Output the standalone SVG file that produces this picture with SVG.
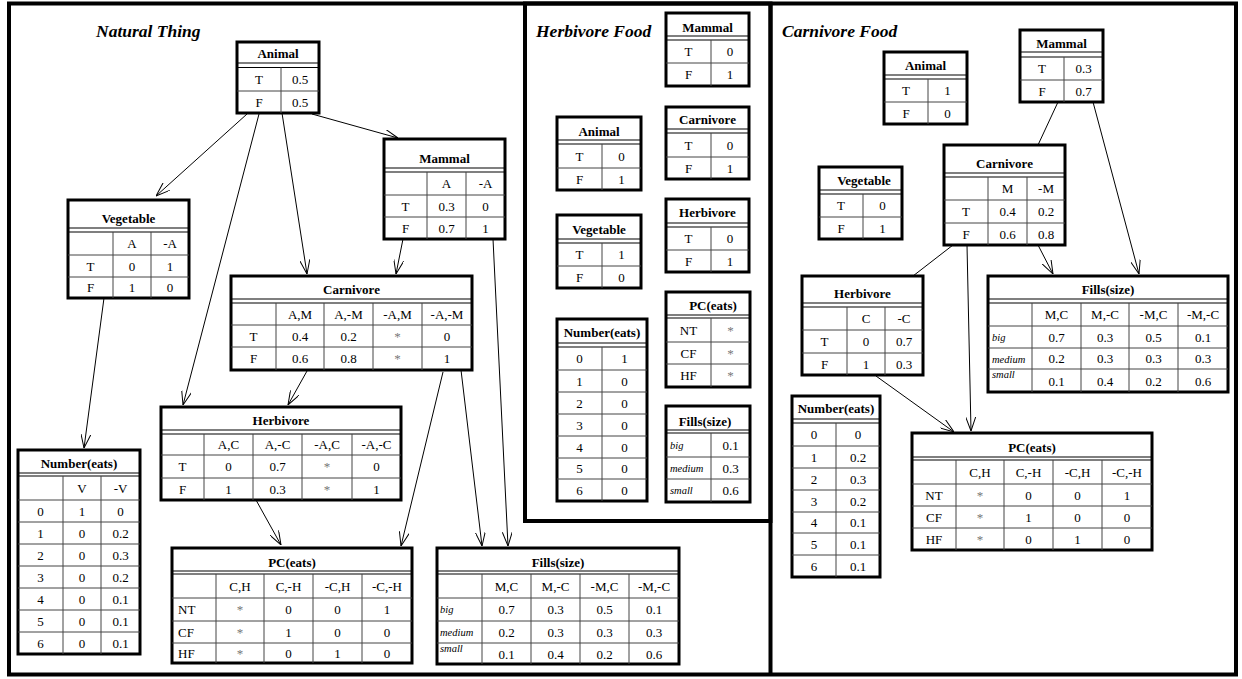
<svg xmlns="http://www.w3.org/2000/svg" width="1242" height="679" viewBox="0 0 1242 679" font-family="'Liberation Serif', 'Times New Roman', serif">
<style>
text{font-family:"Liberation Serif","Times New Roman",serif}
.frame{fill:none;stroke:#000;stroke-width:4}
.box{fill:#fff;stroke:#000;stroke-width:3}
.g{stroke:#444;stroke-width:1;fill:none}
.dl{stroke:#000;stroke-width:1.2;fill:none}
.n text{font-size:13px;text-anchor:middle;fill:#000}
.n text.h{font-weight:bold}
.n text.i{font-style:italic;font-size:10.5px;text-anchor:start}
.n text.l{text-anchor:start}
.n text.s{fill:#777}
.ptitle{font-size:17.5px;font-weight:bold;font-style:italic;fill:#000}
.c{stroke:#000;stroke-width:1;fill:none}
.a{marker-end:url(#arr)}
</style>
<defs>
<marker id="arr" viewBox="0 0 14 10" refX="14" refY="5" markerWidth="14" markerHeight="10" markerUnits="userSpaceOnUse" orient="auto">
<path d="M0,0 L14,5 L0,10" fill="none" stroke="#000" stroke-width="1"/>
</marker>
</defs>
<rect width="1242" height="679" fill="#fff"/>
<g id="panels">
<rect class="frame" x="9" y="3.5" width="1227" height="671"/>
<rect class="frame" x="525" y="3.5" width="245.5" height="517.5"/>
<path class="frame" d="M770.5,3.5V674.5"/>
<text class="ptitle" x="96" y="37">Natural Thing</text>
<text class="ptitle" x="536" y="37">Herbivore Food</text>
<text class="ptitle" x="782" y="37">Carnivore Food</text>
</g>
<g id="connectors">
<path class="c a" d="M247,114 L156,196"/>
<path class="c a" d="M259,114 L183,405"/>
<path class="c a" d="M282,113 L307,274"/>
<path class="c a" d="M312,114 L398,138"/>
<path class="c a" d="M403,239 L396,274"/>
<path class="c a" d="M493,239 L508,546"/>
<path class="c a" d="M104,298 L84,448"/>
<path class="c a" d="M307,371 L288,405"/>
<path class="c a" d="M443,372 L401,546"/>
<path class="c a" d="M461,370 L482,546"/>
<path class="c a" d="M256,500 L281,545"/>
<path class="c" d="M1058,102 L1038,145"/>
<path class="c a" d="M1093,102 L1139,274"/>
<path class="c a" d="M1038,245 L1053,274"/>
<path class="c" d="M953,245 L913,276"/>
<path class="c a" d="M967,245 L971,431"/>
<path class="c a" d="M876,376 L954,432"/>
</g>

<!-- Natural Thing -->
<g id="nt-animal" class="n">
<rect class="box" x="237" y="42" width="82" height="71"/>
<path class="dl" d="M237,63H319M237,67.5H319"/>
<path class="g" d="M237,91H319M281,67.5V113"/>
<text class="h" x="278" y="58">Animal</text>
<text x="259" y="84">T</text><text x="300" y="84">0.5</text>
<text x="259" y="106.5">F</text><text x="300" y="106.5">0.5</text>
</g>
<g id="nt-mammal" class="n">
<rect class="box" x="384" y="139" width="121" height="100"/>
<path class="dl" d="M384,168H505M384,172H505"/>
<path class="g" d="M384,195H505M384,217H505M427,172V239M466,172V239"/>
<text class="h" x="444.5" y="162.5">Mammal</text>
<text x="446.5" y="188">A</text><text x="485.5" y="188">-A</text>
<text x="405.5" y="210.5">T</text><text x="446.5" y="210.5">0.3</text><text x="485.5" y="210.5">0</text>
<text x="405.5" y="232.5">F</text><text x="446.5" y="232.5">0.7</text><text x="485.5" y="232.5">1</text>
</g>
<g id="nt-vegetable" class="n">
<rect class="box" x="68" y="200" width="121" height="98"/>
<path class="dl" d="M68,228H189M68,232H189"/>
<path class="g" d="M68,255H189M68,277H189M113,232V298M151,232V298"/>
<text class="h" x="128.5" y="222.5">Vegetable</text>
<text x="132" y="248">A</text><text x="170" y="248">-A</text>
<text x="90.5" y="270.5">T</text><text x="132" y="270.5">0</text><text x="170" y="270.5">1</text>
<text x="90.5" y="292">F</text><text x="132" y="292">1</text><text x="170" y="292">0</text>
</g>
<g id="nt-carnivore" class="n">
<rect class="box" x="231" y="276" width="241" height="94"/>
<path class="dl" d="M231,299H472M231,303H472"/>
<path class="g" d="M231,325H472M231,347H472M276,303V370M324,303V370M373,303V370M422,303V370"/>
<text class="h" x="351.5" y="293.5">Carnivore</text>
<text x="300" y="318.5">A,M</text><text x="348.5" y="318.5">A,-M</text><text x="397.5" y="318.5">-A,M</text><text x="447" y="318.5">-A,-M</text>
<text x="253.5" y="340.5">T</text><text x="300" y="340.5">0.4</text><text x="348.5" y="340.5">0.2</text><text class="s" x="397.5" y="340.5">*</text><text x="447" y="340.5">0</text>
<text x="253.5" y="363">F</text><text x="300" y="363">0.6</text><text x="348.5" y="363">0.8</text><text class="s" x="397.5" y="363">*</text><text x="447" y="363">1</text>
</g>
<g id="nt-herbivore" class="n">
<rect class="box" x="161" y="407" width="240" height="93"/>
<path class="dl" d="M161,430H401M161,434H401"/>
<path class="g" d="M161,455H401M161,478H401M204,434V500M253,434V500M302,434V500M352,434V500"/>
<text class="h" x="281" y="424.5">Herbivore</text>
<text x="228.5" y="449">A,C</text><text x="277.5" y="449">A,-C</text><text x="327" y="449">-A,C</text><text x="376.5" y="449">-A,-C</text>
<text x="182.5" y="471">T</text><text x="228.5" y="471">0</text><text x="277.5" y="471">0.7</text><text class="s" x="327" y="471">*</text><text x="376.5" y="471">0</text>
<text x="182.5" y="493.5">F</text><text x="228.5" y="493.5">1</text><text x="277.5" y="493.5">0.3</text><text class="s" x="327" y="493.5">*</text><text x="376.5" y="493.5">1</text>
</g>
<g id="nt-number" class="n">
<rect class="box" x="18" y="450" width="122" height="204"/>
<path class="dl" d="M18,473H140M18,476H140"/>
<path class="g" d="M18,500H140M18,522H140M18,544H140M18,566H140M18,588H140M18,610H140M18,632H140M63,476V654M101,476V654"/>
<text class="h" x="79" y="467.5">Number(eats)</text>
<text x="82" y="492.5">V</text><text x="120.5" y="492.5">-V</text>
<text x="40.5" y="515.5">0</text><text x="82" y="515.5">1</text><text x="120.5" y="515.5">0</text>
<text x="40.5" y="537.5">1</text><text x="82" y="537.5">0</text><text x="120.5" y="537.5">0.2</text>
<text x="40.5" y="559.5">2</text><text x="82" y="559.5">0</text><text x="120.5" y="559.5">0.3</text>
<text x="40.5" y="581.5">3</text><text x="82" y="581.5">0</text><text x="120.5" y="581.5">0.2</text>
<text x="40.5" y="603.5">4</text><text x="82" y="603.5">0</text><text x="120.5" y="603.5">0.1</text>
<text x="40.5" y="625.5">5</text><text x="82" y="625.5">0</text><text x="120.5" y="625.5">0.1</text>
<text x="40.5" y="647.5">6</text><text x="82" y="647.5">0</text><text x="120.5" y="647.5">0.1</text>
</g>
<g id="nt-pc" class="n">
<rect class="box" x="172" y="548" width="240" height="115"/>
<path class="dl" d="M172,571H412M172,574H412"/>
<path class="g" d="M172,598H412M172,621H412M172,643H412M216,574V663M264,574V663M313,574V663M362,574V663"/>
<text class="h" x="292" y="566.5">PC(eats)</text>
<text x="240" y="590.5">C,H</text><text x="288.5" y="590.5">C,-H</text><text x="337.5" y="590.5">-C,H</text><text x="387" y="590.5">-C,-H</text>
<text class="l" x="178" y="614">NT</text><text class="s" x="240" y="614">*</text><text x="288.5" y="614">0</text><text x="337.5" y="614">0</text><text x="387" y="614">1</text>
<text class="l" x="178" y="636.5">CF</text><text class="s" x="240" y="636.5">*</text><text x="288.5" y="636.5">1</text><text x="337.5" y="636.5">0</text><text x="387" y="636.5">0</text>
<text class="l" x="178" y="657.5">HF</text><text class="s" x="240" y="657.5">*</text><text x="288.5" y="657.5">0</text><text x="337.5" y="657.5">1</text><text x="387" y="657.5">0</text>
</g>
<g id="nt-fills" class="n">
<rect class="box" x="437" y="548" width="242" height="116"/>
<path class="dl" d="M437,571H679M437,574H679"/>
<path class="g" d="M437,598H679M437,621H679M437,643H679M482,574V664M531,574V664M580,574V664M629,574V664"/>
<text class="h" x="558" y="566.5">Fills(size)</text>
<text x="506.5" y="590.5">M,C</text><text x="555.5" y="590.5">M,-C</text><text x="604.5" y="590.5">-M,C</text><text x="654" y="590.5">-M,-C</text>
<text class="i" x="440" y="613">big</text><text x="506.5" y="614">0.7</text><text x="555.5" y="614">0.3</text><text x="604.5" y="614">0.5</text><text x="654" y="614">0.1</text>
<text class="i" x="440" y="636">medium</text><text x="506.5" y="636.5">0.2</text><text x="555.5" y="636.5">0.3</text><text x="604.5" y="636.5">0.3</text><text x="654" y="636.5">0.3</text>
<text class="i" x="440" y="652">small</text><text x="506.5" y="659">0.1</text><text x="555.5" y="659">0.4</text><text x="604.5" y="659">0.2</text><text x="654" y="659">0.6</text>
</g>

<!-- Herbivore Food -->
<g id="hf-mammal" class="n">
<rect class="box" x="666" y="13" width="83" height="73"/>
<path class="dl" d="M666,36H749M666,40H749"/>
<path class="g" d="M666,63H749M711,40V86"/>
<text class="h" x="707.5" y="31.5">Mammal</text>
<text x="688.5" y="56">T</text><text x="730" y="56">0</text>
<text x="688.5" y="79">F</text><text x="730" y="79">1</text>
</g>
<g id="hf-animal" class="n">
<rect class="box" x="557" y="117" width="84" height="73"/>
<path class="dl" d="M557,140H641M557,144H641"/>
<path class="g" d="M557,168H641M602,144V190"/>
<text class="h" x="599" y="135.5">Animal</text>
<text x="579.5" y="160.5">T</text><text x="621.5" y="160.5">0</text>
<text x="579.5" y="183.5">F</text><text x="621.5" y="183.5">1</text>
</g>
<g id="hf-carnivore" class="n">
<rect class="box" x="666" y="107" width="83" height="72"/>
<path class="dl" d="M666,129H749M666,133H749"/>
<path class="g" d="M666,157H749M711,133V179"/>
<text class="h" x="707.5" y="123.5">Carnivore</text>
<text x="688.5" y="149.5">T</text><text x="730" y="149.5">0</text>
<text x="688.5" y="172.5">F</text><text x="730" y="172.5">1</text>
</g>
<g id="hf-vegetable" class="n">
<rect class="box" x="557" y="215" width="84" height="73"/>
<path class="dl" d="M557,239H641M557,243H641"/>
<path class="g" d="M557,266H641M602,243V288"/>
<text class="h" x="599" y="233.5">Vegetable</text>
<text x="579.5" y="259">T</text><text x="621.5" y="259">1</text>
<text x="579.5" y="281.5">F</text><text x="621.5" y="281.5">0</text>
</g>
<g id="hf-herbivore" class="n">
<rect class="box" x="666" y="199" width="83" height="73"/>
<path class="dl" d="M666,223H749M666,227H749"/>
<path class="g" d="M666,250H749M711,227V272"/>
<text class="h" x="707.5" y="216.5">Herbivore</text>
<text x="688.5" y="243">T</text><text x="730" y="243">0</text>
<text x="688.5" y="265.5">F</text><text x="730" y="265.5">1</text>
</g>
<g id="hf-pc" class="n">
<rect class="box" x="666" y="292" width="84" height="95"/>
<path class="dl" d="M666,315H750M666,318H750"/>
<path class="g" d="M666,342H750M666,364H750M711,318V387"/>
<text class="h" x="713" y="309.5">PC(eats)</text>
<text x="688.5" y="334.5">NT</text><text class="s" x="730.5" y="334.5">*</text>
<text x="688.5" y="357.5">CF</text><text class="s" x="730.5" y="357.5">*</text>
<text x="688.5" y="380">HF</text><text class="s" x="730.5" y="380">*</text>
</g>
<g id="hf-fills" class="n">
<rect class="box" x="666" y="406" width="84" height="96"/>
<path class="dl" d="M666,430H750M666,433H750"/>
<path class="g" d="M666,457H750M666,479H750M711,433V502"/>
<text class="h" x="705" y="425.5">Fills(size)</text>
<text class="i" x="670" y="449">big</text><text x="730.5" y="449.5">0.1</text>
<text class="i" x="670" y="472">medium</text><text x="730.5" y="472.5">0.3</text>
<text class="i" x="670" y="494">small</text><text x="730.5" y="495">0.6</text>
</g>
<g id="hf-number" class="n">
<rect class="box" x="557" y="319" width="90" height="182"/>
<path class="dl" d="M557,343H647M557,347H647"/>
<path class="g" d="M557,370H647M557,392H647M557,414H647M557,436H647M557,458H647M557,479H647M602,347V501"/>
<text class="h" x="602" y="336.5">Number(eats)</text>
<text x="579.5" y="363">0</text><text x="624.5" y="363">1</text>
<text x="579.5" y="385.5">1</text><text x="624.5" y="385.5">0</text>
<text x="579.5" y="407.5">2</text><text x="624.5" y="407.5">0</text>
<text x="579.5" y="429.5">3</text><text x="624.5" y="429.5">0</text>
<text x="579.5" y="451.5">4</text><text x="624.5" y="451.5">0</text>
<text x="579.5" y="473">5</text><text x="624.5" y="473">0</text>
<text x="579.5" y="494.5">6</text><text x="624.5" y="494.5">0</text>
</g>

<!-- Carnivore Food -->
<g id="cf-animal" class="n">
<rect class="box" x="884" y="52" width="83" height="72"/>
<path class="dl" d="M884,75H967M884,79H967"/>
<path class="g" d="M884,102H967M928,79V124"/>
<text class="h" x="925.5" y="69.5">Animal</text>
<text x="906" y="95">T</text><text x="947.5" y="95">1</text>
<text x="906" y="117.5">F</text><text x="947.5" y="117.5">0</text>
</g>
<g id="cf-mammal" class="n">
<rect class="box" x="1020" y="30" width="83" height="72"/>
<path class="dl" d="M1020,52H1103M1020,57H1103"/>
<path class="g" d="M1020,80H1103M1064,57V102"/>
<text class="h" x="1061.5" y="47.5">Mammal</text>
<text x="1042" y="73">T</text><text x="1083.5" y="73">0.3</text>
<text x="1042" y="95.5">F</text><text x="1083.5" y="95.5">0.7</text>
</g>
<g id="cf-vegetable" class="n">
<rect class="box" x="819" y="167" width="83" height="72"/>
<path class="dl" d="M819,190H902M819,194H902"/>
<path class="g" d="M819,217H902M863,194V239"/>
<text class="h" x="864" y="184.5">Vegetable</text>
<text x="841" y="210">T</text><text x="882.5" y="210">0</text>
<text x="841" y="232.5">F</text><text x="882.5" y="232.5">1</text>
</g>
<g id="cf-carnivore" class="n">
<rect class="box" x="944" y="145" width="121" height="100"/>
<path class="dl" d="M944,173H1065M944,177H1065"/>
<path class="g" d="M944,200H1065M944,223H1065M988,177V245M1027,177V245"/>
<text class="h" x="1004.5" y="167.5">Carnivore</text>
<text x="1007.5" y="193">M</text><text x="1046" y="193">-M</text>
<text x="966" y="216">T</text><text x="1007.5" y="216">0.4</text><text x="1046" y="216">0.2</text>
<text x="966" y="238.5">F</text><text x="1007.5" y="238.5">0.6</text><text x="1046" y="238.5">0.8</text>
</g>
<g id="cf-herbivore" class="n">
<rect class="box" x="802" y="276" width="121" height="99"/>
<path class="dl" d="M802,303H923M802,307H923"/>
<path class="g" d="M802,330H923M802,353H923M847,307V375M885,307V375"/>
<text class="h" x="862.5" y="297.5">Herbivore</text>
<text x="866" y="323">C</text><text x="904" y="323">-C</text>
<text x="824.5" y="346">T</text><text x="866" y="346">0</text><text x="904" y="346">0.7</text>
<text x="824.5" y="368.5">F</text><text x="866" y="368.5">1</text><text x="904" y="368.5">0.3</text>
</g>
<g id="cf-fills" class="n">
<rect class="box" x="988" y="276" width="240" height="116"/>
<path class="dl" d="M988,299H1228M988,303H1228"/>
<path class="g" d="M988,326H1228M988,348H1228M988,369H1228M1032,303V392M1081,303V392M1129,303V392M1178,303V392"/>
<text class="h" x="1108" y="293.5">Fills(size)</text>
<text x="1056.5" y="319">M,C</text><text x="1105" y="319">M,-C</text><text x="1153.5" y="319">-M,C</text><text x="1203" y="319">-M,-C</text>
<text class="i" x="992" y="341">big</text><text x="1056.5" y="341.5">0.7</text><text x="1105" y="341.5">0.3</text><text x="1153.5" y="341.5">0.5</text><text x="1203" y="341.5">0.1</text>
<text class="i" x="992" y="363">medium</text><text x="1056.5" y="363">0.2</text><text x="1105" y="363">0.3</text><text x="1153.5" y="363">0.3</text><text x="1203" y="363">0.3</text>
<text class="i" x="992" y="378">small</text><text x="1056.5" y="385.5">0.1</text><text x="1105" y="385.5">0.4</text><text x="1153.5" y="385.5">0.2</text><text x="1203" y="385.5">0.6</text>
</g>
<g id="cf-number" class="n">
<rect class="box" x="792" y="396" width="88" height="181"/>
<path class="dl" d="M792,419H880M792,423H880"/>
<path class="g" d="M792,446H880M792,468H880M792,490H880M792,512H880M792,533H880M792,555H880M836,423V577"/>
<text class="h" x="836" y="412.5">Number(eats)</text>
<text x="814" y="439">0</text><text x="858" y="439">0</text>
<text x="814" y="461.5">1</text><text x="858" y="461.5">0.2</text>
<text x="814" y="483.5">2</text><text x="858" y="483.5">0.3</text>
<text x="814" y="505.5">3</text><text x="858" y="505.5">0.2</text>
<text x="814" y="527">4</text><text x="858" y="527">0.1</text>
<text x="814" y="548.5">5</text><text x="858" y="548.5">0.1</text>
<text x="814" y="570.5">6</text><text x="858" y="570.5">0.1</text>
</g>
<g id="cf-pc" class="n">
<rect class="box" x="912" y="433" width="240" height="117"/>
<path class="dl" d="M912,457H1152M912,460H1152"/>
<path class="g" d="M912,484H1152M912,506H1152M912,528H1152M956,460V550M1004,460V550M1053,460V550M1102,460V550"/>
<text class="h" x="1032" y="451.5">PC(eats)</text>
<text x="980" y="476.5">C,H</text><text x="1028.5" y="476.5">C,-H</text><text x="1077.5" y="476.5">-C,H</text><text x="1127" y="476.5">-C,-H</text>
<text x="934" y="499.5">NT</text><text class="s" x="980" y="499.5">*</text><text x="1028.5" y="499.5">0</text><text x="1077.5" y="499.5">0</text><text x="1127" y="499.5">1</text>
<text x="934" y="521.5">CF</text><text class="s" x="980" y="521.5">*</text><text x="1028.5" y="521.5">1</text><text x="1077.5" y="521.5">0</text><text x="1127" y="521.5">0</text>
<text x="934" y="543.5">HF</text><text class="s" x="980" y="543.5">*</text><text x="1028.5" y="543.5">0</text><text x="1077.5" y="543.5">1</text><text x="1127" y="543.5">0</text>
</g>
</svg>
